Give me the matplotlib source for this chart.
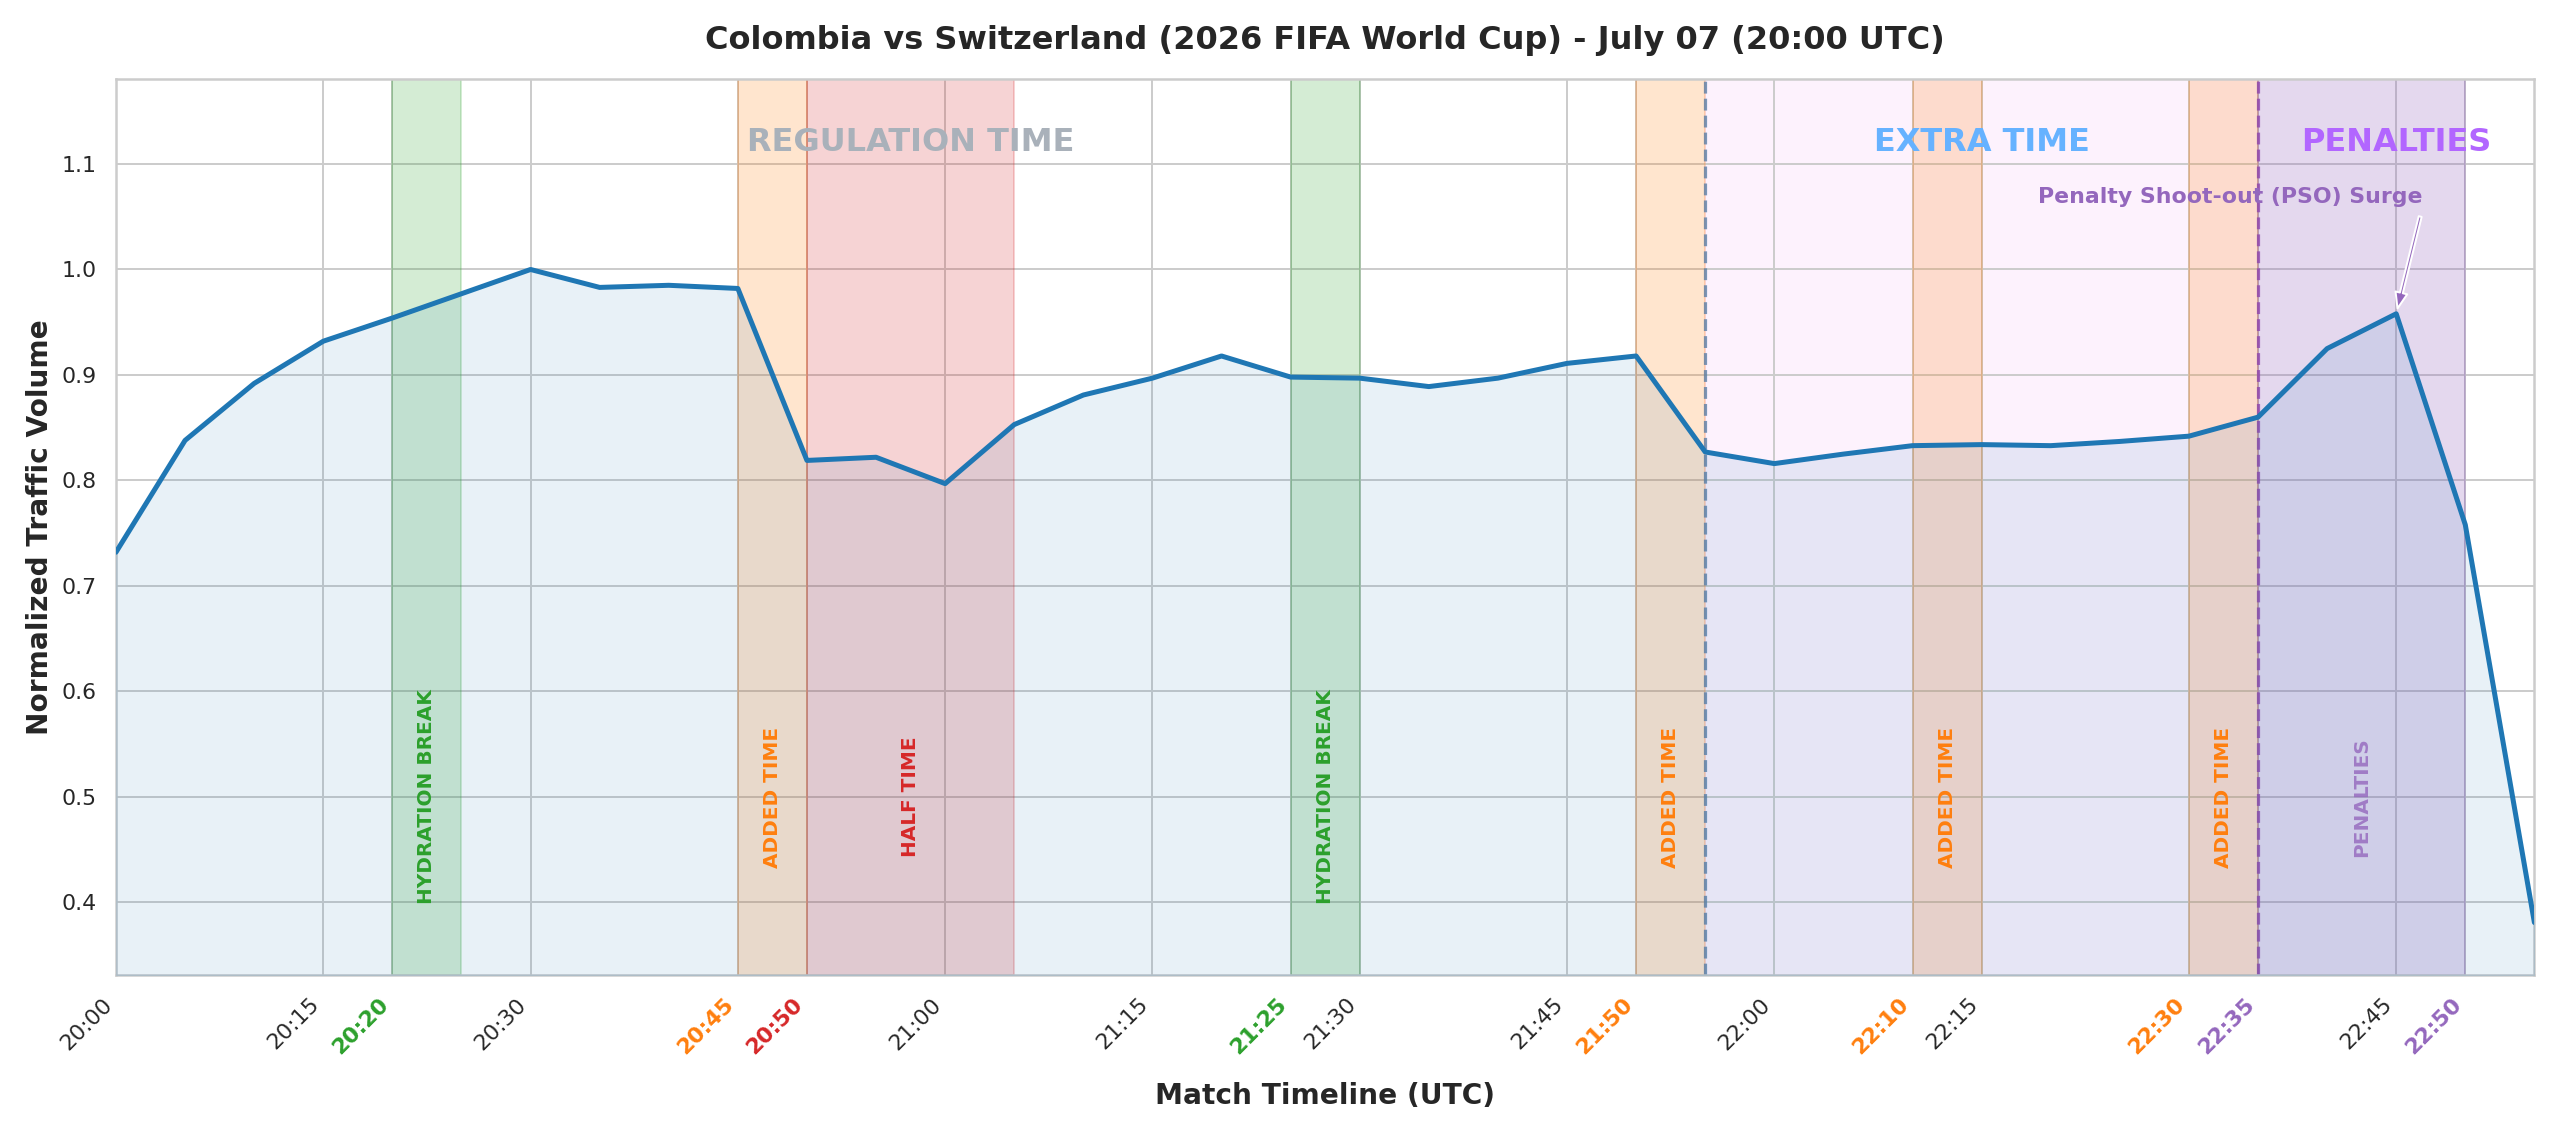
import matplotlib
matplotlib.use("Agg")
import matplotlib.pyplot as plt
import seaborn as sns

# traffic samples every 5 minutes
times = ["20:00", "20:05", "20:10", "20:15", "20:20", "20:25", "20:30", "20:35",
         "20:40", "20:45", "20:50", "20:55", "21:00", "21:05", "21:10", "21:15",
         "21:20", "21:25", "21:30", "21:35", "21:40", "21:45", "21:50", "21:55",
         "22:00", "22:05", "22:10", "22:15", "22:20", "22:25", "22:30", "22:35",
         "22:40", "22:45", "22:50", "22:55"]
traffic = [0.732, 0.838, 0.892, 0.932, 0.954, 0.977, 1.000, 0.983,
           0.985, 0.982, 0.819, 0.822, 0.797, 0.853, 0.881, 0.897,
           0.918, 0.898, 0.897, 0.889, 0.897, 0.911, 0.918, 0.827,
           0.816, 0.825, 0.833, 0.834, 0.833, 0.837, 0.842, 0.860,
           0.925, 0.958, 0.758, 0.381]

# match events: (start, end, label, colour)
events = [
    ("20:20", "20:25", "HYDRATION BREAK", "#2ca02c"),
    ("20:45", "20:50", "ADDED TIME", "#ff7f0e"),
    ("20:50", "21:05", "HALF TIME", "#d62728"),
    ("21:25", "21:30", "HYDRATION BREAK", "#2ca02c"),
    ("21:50", "21:55", "ADDED TIME", "#ff7f0e"),
    ("22:10", "22:15", "ADDED TIME", "#ff7f0e"),
    ("22:30", "22:35", "ADDED TIME", "#ff7f0e"),
    ("22:35", "22:50", "PENALTIES", "#9467bd"),
]
extra_time = ("21:55", "22:35")
regular_ticks = ["20:00", "20:15", "20:30", "21:00", "21:15", "21:30",
                 "21:45", "22:00", "22:15", "22:45"]
event_ticks = {"20:20": "#2ca02c", "20:45": "#ff7f0e", "20:50": "#d62728",
               "21:25": "#2ca02c", "21:50": "#ff7f0e", "22:10": "#ff7f0e",
               "22:30": "#ff7f0e", "22:35": "#9467bd", "22:50": "#9467bd"}


def mins(t):
    h, m = t.split(":")
    return (int(h) - 20) * 60 + int(m)


x = [mins(t) for t in times]

sns.set_theme(style="whitegrid")
fig, ax = plt.subplots(figsize=(2560 / 144, 1138 / 144), dpi=144)
fig.subplots_adjust(left=0.0453, right=0.990, top=0.931, bottom=0.143)

ylo, yhi = 0.331, 1.181

# extra time band
ax.axvspan(mins(extra_time[0]), mins(extra_time[1]), color="violet", alpha=0.1, zorder=0)

for start, end, label, col in events:
    a = 0.25 if label == "PENALTIES" else 0.2
    ax.axvspan(mins(start), mins(end), color=col, alpha=a, zorder=1)
    ax.text((mins(start) + mins(end)) / 2, 0.5, label, rotation=90, color=col,
            fontsize=10, fontweight="bold", ha="center", va="center", zorder=5,
            alpha=0.8 if label == "PENALTIES" else 1.0)

ax.axvline(mins("21:55"), color="#5b7fa6", ls="--", lw=1.6, alpha=0.8, zorder=2)
ax.axvline(mins("22:35"), color="#8e44ad", ls="--", lw=1.6, alpha=0.8, zorder=2)

ax.plot(x, traffic, color="#1f77b4", lw=2.5, zorder=4)
ax.fill_between(x, traffic, ylo, color="#1f77b4", alpha=0.1, zorder=3)

# phase labels
ax.text((mins("20:00") + mins("21:55")) / 2, 1.12, "REGULATION TIME", color="#a9b1ba",
        fontsize=16, fontweight="bold", ha="center", va="center")
ax.text((mins("21:55") + mins("22:35")) / 2, 1.12, "EXTRA TIME", color="#66b2ff",
        fontsize=16, fontweight="bold", ha="center", va="center")
ax.text((mins("22:35") + mins("22:55")) / 2, 1.12, "PENALTIES", color="#b266ff",
        fontsize=16, fontweight="bold", ha="center", va="center")

peak = traffic[times.index("22:45")]
ax.annotate("Penalty Shoot-out (PSO) Surge", xy=(mins("22:45"), peak),
            xytext=(mins("22:33"), 1.069), color="#9467bd", fontsize=11,
            fontweight="bold", ha="center", va="center", zorder=6,
            arrowprops=dict(facecolor="#9467bd", edgecolor="white", shrink=0.05,
                            width=1.5, headwidth=6, headlength=8))

ticks = sorted(set(regular_ticks) | set(event_ticks), key=mins)
ax.set_xticks([mins(t) for t in ticks])
ax.set_xticklabels(ticks, rotation=45, ha="right", fontsize=11)
for lbl, t in zip(ax.get_xticklabels(), ticks):
    if t in event_ticks:
        lbl.set_color(event_ticks[t])
        lbl.set_fontweight("bold")
ax.tick_params(axis="y", labelsize=11)

ax.set_xlim(0, mins("22:55"))
ax.set_ylim(ylo, yhi)
ax.set_xlabel("Match Timeline (UTC)", fontsize=14, fontweight="bold", labelpad=12)
ax.set_ylabel("Normalized Traffic Volume", fontsize=14, fontweight="bold")
ax.set_title("Colombia vs Switzerland (2026 FIFA World Cup) - July 07 (20:00 UTC)",
             fontsize=16, fontweight="bold", pad=15)

fig.savefig("out.png", dpi=144)
